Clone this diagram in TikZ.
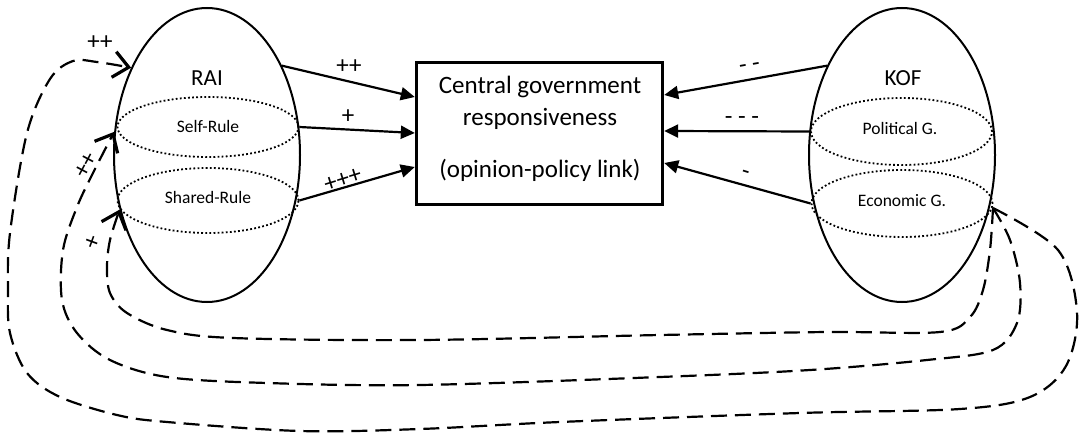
\documentclass[tikz,border=0pt]{standalone}
\usepackage{fontspec}
\setmainfont{Carlito}
\usetikzlibrary{shapes.geometric,arrows.meta}
\begin{document}
\begin{tikzpicture}[x=1pt,y=-1pt,
  bigell/.style={ellipse,draw,line width=2pt,inner sep=0pt,minimum width=186pt,minimum height=294pt},
  dotell/.style={ellipse,draw,line width=1.8pt,dash pattern=on 1.8pt off 2.3pt,inner sep=0pt,minimum width=181pt},
  bigtxt/.style={font=\fontsize{25}{29}\selectfont,inner sep=0pt},
  headtxt/.style={font=\fontsize{23}{26}\selectfont,inner sep=0pt},
  subtxt/.style={font=\fontsize{17.5}{21}\selectfont,inner sep=0pt},
  lbl/.style={font=\fontsize{25}{28}\selectfont,inner sep=0pt},
  sarrow/.style={line width=2.2pt,-{Triangle[length=14pt,width=13pt]}},
  darrow/.style={line width=2.2pt,dash pattern=on 16pt off 8pt,-{Straight Barb[length=15pt,width=26pt,line width=3.2pt]}},
]
\useasboundingbox (0,0) rectangle (1085,433);
% central box
\node[draw,line width=3.4pt,minimum width=246pt,minimum height=142pt,inner sep=0pt] (box) at (539.5,133.5) {};
\node[bigtxt] (c1) at (540,87) {Central government};
\node[bigtxt] (c2) at (540,119) {responsiveness};
\node[bigtxt] (c3) at (540,170) {(opinion-policy link)};
% RAI
\node[bigell] (rai) at (207,155) {};
\node[dotell,minimum height=60pt] (srule) at (208,127) {};
\node[dotell,minimum height=65pt] (shrule) at (208,200.5) {};
\node[headtxt] (railbl) at (207,78) {RAI};
\node[subtxt] (srtxt) at (208,126) {Self-Rule};
\node[subtxt] (shtxt) at (208,197) {Shared-Rule};
% KOF
\node[bigell] (kof) at (902,155) {};
\node[dotell,minimum height=67pt] (polg) at (901.5,131.5) {};
\node[dotell,minimum height=67pt] (econg) at (902,203.5) {};
\node[headtxt] (koflbl) at (903,78) {KOF};
\node[subtxt] (pgtxt) at (900,128) {Political G.};
\node[subtxt] (egtxt) at (902,201) {Economic G.};
% solid arrows
\draw[sarrow] (rai.50) -- ([yshift=36.5pt]box.west);
\draw[sarrow] (srule.east) -- ([yshift=0.5pt]box.west);
\draw[sarrow] (shrule.east) -- ([yshift=-33.5pt]box.west);
\draw[sarrow] (kof.130) -- ([yshift=38.5pt]box.east);
\draw[sarrow] (polg.west) -- ([yshift=2.5pt]box.east);
\draw[sarrow] (econg.west) -- ([yshift=-29.5pt]box.east);
\node[lbl] (l1) at (349,67) {++};
\node[lbl] (l2) at (348,117) {+};
\node[lbl,rotate=17] (l3) at (343,180) {+++};
\node[lbl,rotate=10] (r1) at (750,68) {- -};
\node[lbl] (r2) at (742,121) {- - -};
\node[lbl,rotate=-17] (r3) at (745,175) {-};
% dashed feedback curves
\coordinate (kofp) at (993,208);
\draw[darrow] plot[smooth,tension=0.55] coordinates {(kofp) (1058,250) (1077,312) (1066,366) (1030,397) (960,409) (800,413) (560,422) (420,429) (300,431) (167,422) (117,415) (60,397) (27,373) (10,333) (8,290) (10,233) (27,133) (50,79) (73,61) (97,62) (rai.131)};
\draw[darrow] plot[smooth,tension=0.55] coordinates {(kofp) (1010,240) (1020,283) (1017,323) (993,350) (927,360) (810,370) (660,377) (420,385) (267,383) (167,377) (110,360) (77,333) (62,300) (63,250) (77,207) (93,173) (rai.166)};
\draw[darrow] plot[smooth,tension=0.55] coordinates {(kofp) (990,250) (983,290) (970,317) (940,332) (827,332) (660,335) (420,340) (233,338) (167,330) (127,313) (110,293) (107,267) (110,240) (rai.212)};
\node[lbl] (d1) at (100,43) {++};
\node[lbl,rotate=62] (d2) at (86,165) {++};
\node[lbl,rotate=70] (d3) at (93,242) {+};
\end{tikzpicture}
\end{document}
